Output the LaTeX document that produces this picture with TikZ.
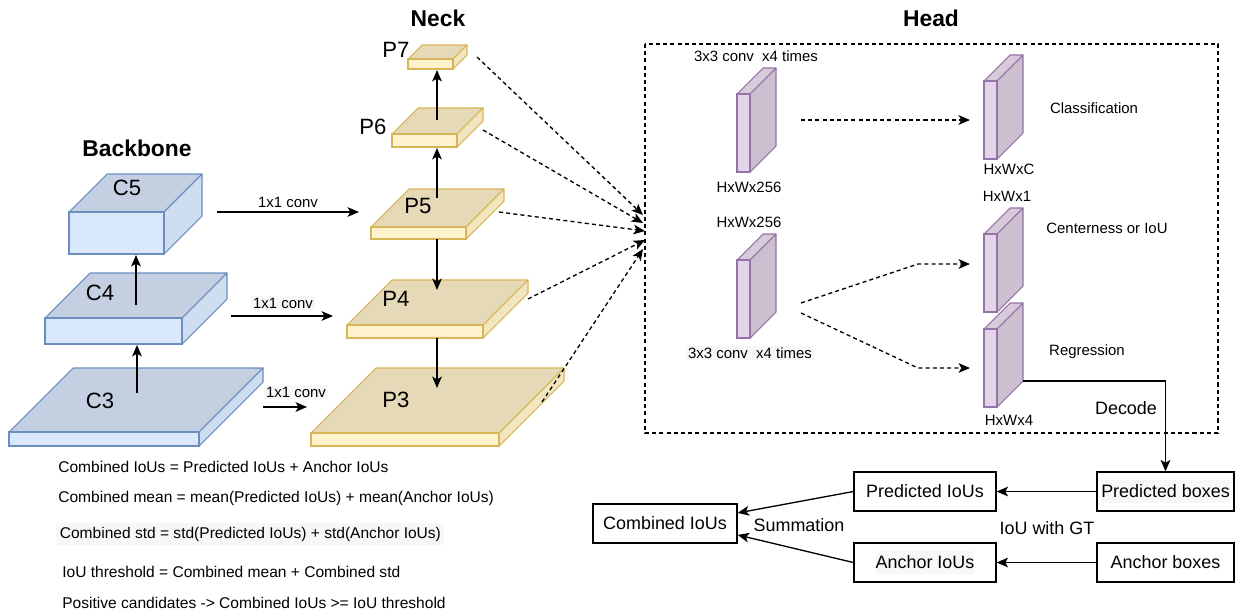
\documentclass[tikz,border=0pt]{standalone}
\usepackage{fontspec}
\setmainfont{Liberation Sans}
\usetikzlibrary{arrows.meta,calc}
\definecolor{bbfront}{HTML}{DAE8FC}
\definecolor{bbtop}{HTML}{C4D0E2}
\definecolor{bbside}{HTML}{CFDDF0}
\definecolor{bbline}{HTML}{6C8EBF}
\definecolor{nkfront}{HTML}{FFF2CC}
\definecolor{nktop}{HTML}{E6D9B8}
\definecolor{nkside}{HTML}{F2E6C1}
\definecolor{nkline}{HTML}{D6B656}
\definecolor{hdfront}{HTML}{E1D5E7}
\definecolor{hdtop}{HTML}{D6CADB}
\definecolor{hdside}{HTML}{CBBFD0}
\definecolor{hdline}{HTML}{9673A6}
\definecolor{hlbg}{HTML}{F6F7F9}
\newcommand\mycuboid[7]{%
  \filldraw[fill=#7top,draw=#7line,line width=0.6pt,line join=round]
    (#2,#3) -- ({#2+#6},{#3-#6}) -- ({#4+#6},{#3-#6}) -- (#4,#3) -- cycle;
  \filldraw[fill=#7side,draw=#7line,line width=0.6pt,line join=round]
    (#4,#3) -- ({#4+#6},{#3-#6}) -- ({#4+#6},{#5-#6}) -- (#4,#5) -- cycle;
  \filldraw[fill=#7front,draw=#7line,line width=0.6pt]
    (#2,#3) rectangle (#4,#5);
  \coordinate (#1-tl) at (#2,#3);
  \coordinate (#1-br) at (#4,#5);
}
\tikzset{
  arr/.style={-{Stealth[length=6.5pt,width=5.5pt,inset=1.6pt]},line width=0.75pt},
  darr/.style={arr,dash pattern=on 2.3pt off 1.8pt},
  title/.style={font=\fontsize{13}{15}\selectfont\bfseries},
  big/.style={font=\fontsize{12.6}{15}\selectfont},
  small/.style={font=\fontsize{8.5}{10}\selectfont,inner sep=1pt},
  mid/.style={font=\fontsize{10.2}{12}\selectfont},
  hl/.style={fill=hlbg},
  boxn/.style={draw,line width=0.75pt,mid,minimum height=0.78cm,inner sep=0pt},
  formula/.style={font=\fontsize{8.85}{10}\selectfont,anchor=west,inner sep=0pt},
}
\begin{document}
\begin{tikzpicture}[x=0.02cm,y=-0.02cm]
\useasboundingbox[fill=white] (0,0) rectangle (1242,613);

% titles
\node[title] (tbb) at (137,148) {Backbone};
\node[title] (tneck) at (438,18) {Neck};
\node[title] (thead) at (931,18) {Head};

% backbone cuboids
\mycuboid{c5}{69}{212}{164}{254}{38}{bb}
\mycuboid{c4}{45}{318}{182}{344}{45}{bb}
\mycuboid{c3}{9}{432}{199}{446}{64}{bb}
\node[big] (lc5) at (127,188) {C5};
\node[big] (lc4) at (100,293) {C4};
\node[big] (lc3) at (100,401) {C3};

% neck cuboids
\mycuboid{p7}{408}{59}{453}{69}{14}{nk}
\mycuboid{p6}{392}{134}{457}{147}{26}{nk}
\mycuboid{p5}{371}{227}{466}{239}{38}{nk}
\mycuboid{p4}{347}{325}{483}{338}{45}{nk}
\mycuboid{p3}{311}{433}{499}{446}{65}{nk}
\node[big] (lp7) at (396,50) {P7};
\node[big] (lp6) at (373,127) {P6};
\node[big] (lp5) at (418,206) {P5};
\node[big] (lp4) at (396,299) {P4};
\node[big] (lp3) at (396,400) {P3};

% backbone arrows
\coordinate (c3a) at (137,393); \coordinate (c4b) at (137,345);
\coordinate (c4a) at (136,305); \coordinate (c5b) at (136,255);
\draw[arr] (c3a) -- (c4b);
\draw[arr] (c4a) -- (c5b);

% neck arrows
\coordinate (p6a) at (437,120); \coordinate (p7b) at (437,70);
\coordinate (p5a) at (437,198); \coordinate (p6b) at (437,148);
\coordinate (p5c) at (437,239); \coordinate (p4t) at (437,290);
\coordinate (p4c) at (437,338); \coordinate (p3t) at (437,388);
\draw[arr] (p6a) -- (p7b);
\draw[arr] (p5a) -- (p6b);
\draw[arr] (p5c) -- (p4t);
\draw[arr] (p4c) -- (p3t);

% 1x1 conv
\coordinate (k5s) at (217,212); \coordinate (k5e) at (359,212);
\coordinate (k4s) at (231,316); \coordinate (k4e) at (333,316);
\coordinate (k3s) at (263,407); \coordinate (k3e) at (307,407);
\draw[arr] (k5s) -- (k5e);
\draw[arr] (k4s) -- (k4e);
\draw[arr] (k3s) -- (k3e);
\node[small] (t5) at (288,202) {1x1 conv};
\node[small,hl] (t4) at (283,303) {1x1 conv};
\node[small,hl] (t3) at (296,392) {1x1 conv};

% head box
\draw[line width=0.7pt,dash pattern=on 2.3pt off 1.8pt] (645,44) rectangle (1218,433);

% neck to head
\coordinate (d7) at (477,57);  \coordinate (e7) at (643,215);
\coordinate (d6) at (483,130); \coordinate (e6) at (643,223);
\coordinate (d5) at (499,212); \coordinate (e5) at (645,231);
\coordinate (d4) at (528,299); \coordinate (e4) at (645,240);
\coordinate (d3) at (542,402); \coordinate (e3) at (643,249);
\draw[darr] (d7) -- (e7);
\draw[darr] (d6) -- (e6);
\draw[darr] (d5) -- (e5);
\draw[darr] (d4) -- (e4);
\draw[darr] (d3) -- (e3);

% head feature maps
\mycuboid{hc}{737}{94}{750}{172}{26}{hd}
\mycuboid{hr}{737}{260}{750}{338}{26}{hd}
\mycuboid{cls}{984}{81}{997}{159}{26}{hd}
\mycuboid{ctr}{984}{234}{997}{312}{26}{hd}
\mycuboid{reg}{984}{329}{997}{407}{26}{hd}

\node[small] (h1) at (756,56) {3x3 conv\ \ x4 times};
\node[small] (h2) at (749,187) {HxWx256};
\node[small] (h3) at (749,222) {HxWx256};
\node[small,hl] (h4) at (750,353) {3x3 conv\ \ x4 times};
\node[small] (h5) at (1094,108) {Classification};
\node[small] (h6) at (1009,169) {HxWxC};
\node[small] (h7) at (1007,196) {HxWx1};
\node[small] (h8) at (1107,228) {Centerness or IoU};
\node[small] (h9) at (1087,352) {Regression};
\node[small] (h10) at (1009,420) {HxWx4};
\node[mid] (dec) at (1126,408) {Decode};

\coordinate (hcs) at (801,120); \coordinate (clse) at (970,120);
\coordinate (hrs1) at (801,303); \coordinate (hrm1) at (918,264); \coordinate (ctre) at (970,264);
\coordinate (hrs2) at (801,313); \coordinate (hrm2) at (918,368); \coordinate (rege) at (970,368);
\draw[darr] (hcs) -- (clse);
\draw[darr] (hrs1) -- (hrm1) -- (ctre);
\draw[darr] (hrs2) -- (hrm2) -- (rege);

% bottom boxes
\node[boxn,minimum width=2.88cm] (comb) at (665,523.5) {Combined IoUs};
\node[boxn,minimum width=2.84cm] (pi) at (925,491.5) {Predicted IoUs};
\node[boxn,minimum width=2.84cm] (ai) at (925,562.5) {\colorbox{hlbg}{\hspace{-3pt}Anchor IoUs\hspace{-3pt}}};
\node[boxn,minimum width=2.74cm] (pb) at (1165.5,491.5) {\colorbox{hlbg}{\hspace{-3pt}Predicted boxes\hspace{-3pt}}};
\node[boxn,minimum width=2.74cm] (ab) at (1165.5,562.5) {Anchor boxes};
\coordinate (regd) at (1023,381);
\coordinate (bend) at (1165.5,381);
\draw[arr] (regd) -- (bend) -- (pb.north);
\draw[arr] (pb.west) -- (pi.east);
\draw[arr] (ab.west) -- (ai.east);
\draw[arr] (pi.west) -- ([yshift=6pt]comb.east);
\draw[arr] (ai.west) -- ([yshift=-6.5pt]comb.east);
\node[mid] (sum) at (799,525) {Summation};
\node[mid] (gt) at (1047,528) {IoU with GT};

% formulas
\node[formula] (f1) at (58,467) {Combined IoUs = Predicted IoUs + Anchor IoUs};
\node[formula] (f2) at (58,498) {Combined mean = mean(Predicted IoUs) + mean(Anchor IoUs)};
\node[formula,fill=hlbg,inner sep=2pt] (f3) at (56,534) {Combined std = std(Predicted IoUs) + std(Anchor IoUs)};
\node[formula] (f4) at (62,572) {IoU threshold = Combined mean + Combined std};
\node[formula] (f5) at (62,603) {Positive candidates -> Combined IoUs >= IoU threshold};
\end{tikzpicture}
\end{document}
